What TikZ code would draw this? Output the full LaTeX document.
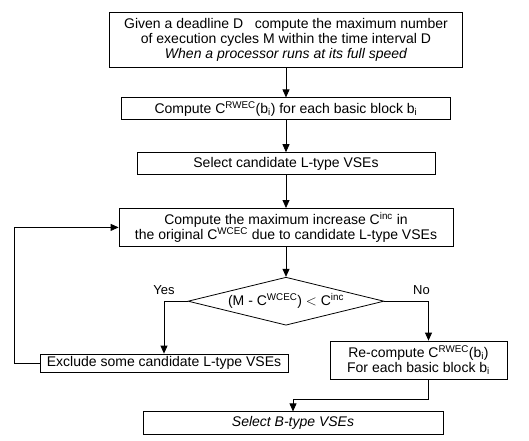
\documentclass[tikz,border=0pt]{standalone}
\usepackage{fontspec}
\setmainfont{Liberation Sans}
\usepackage{tikz}
\usetikzlibrary{positioning,shapes.geometric,arrows.meta}

\tikzset{
  box/.style={draw, line width=0.8pt, rectangle, inner sep=2pt, align=center, font=\fontsize{14}{15}\selectfont},
  decision/.style={draw, line width=0.8pt, diamond, aspect=4, inner sep=1pt, minimum width=196pt, minimum height=48pt, font=\fontsize{14}{15}\selectfont},
  arr/.style={line width=0.8pt, -{Triangle[length=8pt,width=7pt]}},
  lbl/.style={font=\fontsize{13}{15}\selectfont}
}

\begin{document}
\begin{tikzpicture}[x=1pt,y=1pt]
  \useasboundingbox (0,0) rectangle (529,440);

  \node[box, minimum width=353pt, minimum height=55pt] (given) at (286,400.5)
    {Given a deadline D\ \ \ compute the maximum number\\
     of execution cycles M within the time interval D\\
     \itshape When a processor runs at its full speed};
  \node[box, minimum width=329pt, minimum height=22pt, below=30pt of given] (crwec)
    {Compute C\textsuperscript{RWEC}(b\textsubscript{i}) for each basic block b\textsubscript{i}};
  \node[box, minimum width=298pt, minimum height=22pt, below=32pt of crwec] (cand)
    {Select candidate L-type VSEs};
  \node[box, minimum width=334pt, minimum height=38pt, below=33pt of cand] (cinc)
    {Compute the maximum increase C\textsuperscript{inc} in\\
     the original C\textsuperscript{WCEC} due to candidate L-type VSEs};
  \node[decision, below=30pt of cinc] (dec)
    {(M - C\textsuperscript{WCEC}) $<$ C\textsuperscript{inc}};

  \node[box, minimum width=248pt, minimum height=18pt, below=28pt of dec, xshift=-122pt] (excl)
    {Exclude some candidate L-type VSEs};
  \node[box, minimum width=177pt, minimum height=38pt, below=15pt of dec, xshift=132.5pt] (recomp)
    {Re-compute C\textsuperscript{RWEC}(b\textsubscript{i})\\
     For each basic block b\textsubscript{i}};
  \node[box, minimum width=300pt, minimum height=23pt, below=32pt of recomp, xshift=-125.5pt] (selb)
    {\itshape Select B-type VSEs};

  \draw[arr] (given) -- (crwec);
  \draw[arr] (crwec) -- (cand);
  \draw[arr] (cand) -- (cinc);
  \draw[arr] (cinc) -- (dec);
  \draw[arr] (dec) -| node[lbl, pos=.5, above=3pt] {Yes} (excl);
  \draw[arr] (dec) -| node[lbl, pos=.5, above=3pt, xshift=-7pt] {No} ([xshift=10pt]recomp.north);
  \draw[arr] (excl.west) -- ++(-25pt,0) |- (cinc);
  \draw[arr] ([xshift=10pt]recomp.south) -- ++(0,-20pt) -| (selb);
\end{tikzpicture}
\end{document}
